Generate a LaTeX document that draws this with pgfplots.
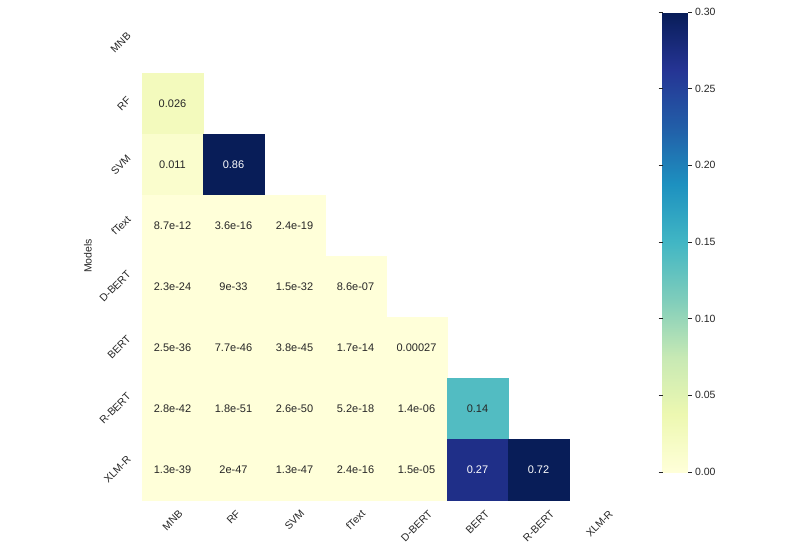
\documentclass[border=0pt]{standalone}
\usepackage{pgfplots}
\pgfplotsset{compat=1.18}
\usepackage{fontspec}
\setmainfont{Liberation Sans}
\definecolor{txt}{HTML}{262626}
\pgfplotsset{colormap={ylgnbu}{rgb255=(255,255,217) rgb255=(237,248,177) rgb255=(199,233,180) rgb255=(127,205,187) rgb255=(65,182,196) rgb255=(29,145,192) rgb255=(34,94,168) rgb255=(37,52,148) rgb255=(8,29,88)}}

\begin{document}
\begin{tikzpicture}
\path[use as bounding box] (0,0) rectangle (800pt,554pt);
\begin{axis}[
  at={(142pt,54pt)}, anchor=south west,
  scale only axis, width=488pt, height=488pt,
  xmin=-0.5, xmax=7.5, ymin=-0.5, ymax=7.5, y dir=reverse,
  axis line style={draw=none}, major tick style={draw=none},
  xtick={0,...,7}, ytick={0,...,7},
  xticklabels={\rotatebox{45}{MNB},\rotatebox{45}{RF},\rotatebox{45}{SVM},\rotatebox{45}{fText},\rotatebox{45}{D-BERT},\rotatebox{45}{BERT},\rotatebox{45}{R-BERT},\rotatebox{45}{XLM-R}},
  yticklabels={\rotatebox{45}{MNB},\rotatebox{45}{RF},\rotatebox{45}{SVM},\rotatebox{45}{fText},\rotatebox{45}{D-BERT},\rotatebox{45}{BERT},\rotatebox{45}{R-BERT},\rotatebox{45}{XLM-R}},
  xticklabel style={anchor=north, yshift=-6pt, font=\fontsize{10.5}{12}\selectfont, text=txt},
  yticklabel style={anchor=east, xshift=-7pt, font=\fontsize{10.5}{12}\selectfont, text=txt},
  ylabel={Models},
  ylabel style={at={(axis description cs:-0.111,0.5)}, anchor=center, font=\fontsize{10.5}{12}\selectfont, text=txt},
  colormap name=ylgnbu,
  point meta min=0, point meta max=0.3,
  colorbar,
  colorbar/width=25pt,
  colorbar style={
    scale only axis,
    at={(parent axis.north east)}, anchor=north west, xshift=24pt,
    width=25pt, height=460pt,
    axis line style={draw=none},
    ytick={0,0.05,0.1,0.15,0.2,0.25,0.3},
    tick align=outside, major tick length=4pt,
    ytick style={draw=txt, line width=0.6pt},
    yticklabel style={font=\fontsize{10.5}{12}\selectfont, text=txt,
      /pgf/number format/.cd, fixed, fixed zerofill, precision=2, assume math mode=true},
  },
]
% cells: x = column, y = row, c = colour value (p-value clipped at 0.3)
\addplot[scatter, only marks, mark=square*, mark size=30.5pt, point meta=explicit,
  scatter/use mapped color={draw=mapped color, fill=mapped color}]
  table[x=x, y=y, meta=c] {
x y c
0 1 0.026
0 2 0.011
1 2 0.3
0 3 0
1 3 0
2 3 0
0 4 0
1 4 0
2 4 0
3 4 0
0 5 0
1 5 0
2 5 0
3 5 0
4 5 0.00027
0 6 0
1 6 0
2 6 0
3 6 0
4 6 0
5 6 0.14
0 7 0
1 7 0
2 7 0
3 7 0
4 7 0
5 7 0.27
6 7 0.3
};
% annotations on light cells
\addplot[draw=none, mark=none, point meta=explicit symbolic,
  nodes near coords, nodes near coords align=center,
  every node near coord/.append style={text=txt, font=\fontsize{11}{13}\selectfont}]
  table[x=x, y=y, meta=lbl] {
x y lbl
0 1 0.026
0 2 0.011
0 3 8.7e-12
1 3 3.6e-16
2 3 2.4e-19
0 4 2.3e-24
1 4 9e-33
2 4 1.5e-32
3 4 8.6e-07
0 5 2.5e-36
1 5 7.7e-46
2 5 3.8e-45
3 5 1.7e-14
4 5 0.00027
0 6 2.8e-42
1 6 1.8e-51
2 6 2.6e-50
3 6 5.2e-18
4 6 1.4e-06
5 6 0.14
0 7 1.3e-39
1 7 2e-47
2 7 1.3e-47
3 7 2.4e-16
4 7 1.5e-05
};
% annotations on dark cells
\addplot[draw=none, mark=none, point meta=explicit symbolic,
  nodes near coords, nodes near coords align=center,
  every node near coord/.append style={text=white, font=\fontsize{11}{13}\selectfont}]
  table[x=x, y=y, meta=lbl] {
x y lbl
1 2 0.86
5 7 0.27
6 7 0.72
};
\end{axis}
\end{tikzpicture}
\end{document}
